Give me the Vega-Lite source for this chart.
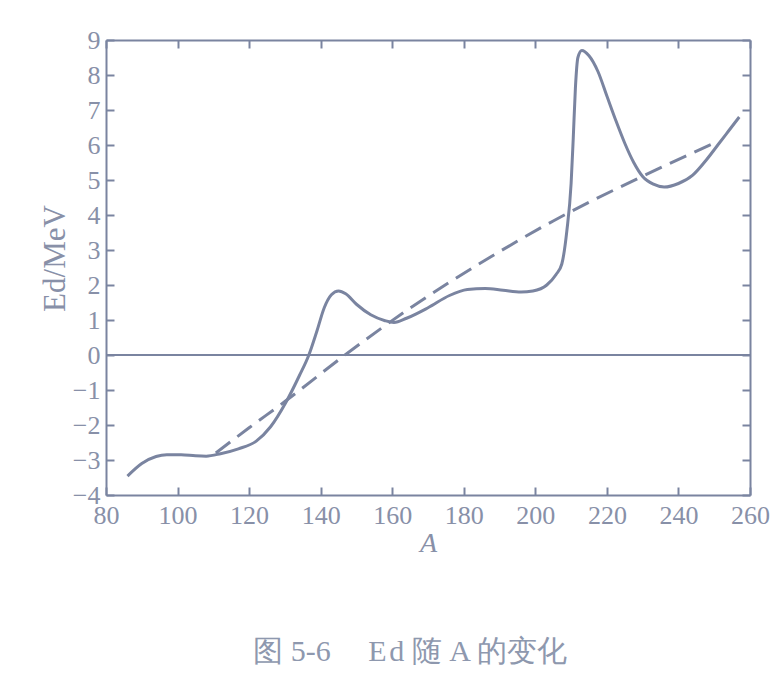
{
  "$schema": "https://vega.github.io/schema/vega-lite/v6.json",
  "autosize": "none",
  "width": 644,
  "height": 455,
  "padding": {"left": 106, "top": 40, "right": 22, "bottom": 202},
  "background": "white",
  "config": {"view": {"stroke": null}, "font": "Liberation Serif"},
  "title": {
    "text": "图 5-6\u2003 E\u200ad 随 A 的变化",
    "orient": "bottom",
    "anchor": "middle",
    "offset": 80,
    "dx": -18,
    "fontSize": 30,
    "font": "Liberation Serif",
    "fontWeight": "normal",
    "color": "#8e98ae"
  },
  "data": {
    "values": [
      {"A": 86, "E": -3.46, "series": "solid"},
      {"A": 90, "E": -3.1, "series": "solid"},
      {"A": 94, "E": -2.9, "series": "solid"},
      {"A": 97, "E": -2.85, "series": "solid"},
      {"A": 101, "E": -2.85, "series": "solid"},
      {"A": 105, "E": -2.88, "series": "solid"},
      {"A": 108, "E": -2.89, "series": "solid"},
      {"A": 112, "E": -2.82, "series": "solid"},
      {"A": 117, "E": -2.68, "series": "solid"},
      {"A": 122, "E": -2.46, "series": "solid"},
      {"A": 126, "E": -2.05, "series": "solid"},
      {"A": 130.3, "E": -1.35, "series": "solid"},
      {"A": 134, "E": -0.6, "series": "solid"},
      {"A": 136.7, "E": 0, "series": "solid"},
      {"A": 139, "E": 0.7, "series": "solid"},
      {"A": 141, "E": 1.35, "series": "solid"},
      {"A": 143, "E": 1.72, "series": "solid"},
      {"A": 145, "E": 1.83, "series": "solid"},
      {"A": 147, "E": 1.75, "series": "solid"},
      {"A": 150, "E": 1.45, "series": "solid"},
      {"A": 154, "E": 1.15, "series": "solid"},
      {"A": 158, "E": 0.98, "series": "solid"},
      {"A": 160.5, "E": 0.93, "series": "solid"},
      {"A": 164, "E": 1.05, "series": "solid"},
      {"A": 170, "E": 1.35, "series": "solid"},
      {"A": 176, "E": 1.7, "series": "solid"},
      {"A": 181, "E": 1.87, "series": "solid"},
      {"A": 186, "E": 1.9, "series": "solid"},
      {"A": 191, "E": 1.85, "series": "solid"},
      {"A": 196, "E": 1.8, "series": "solid"},
      {"A": 199.3, "E": 1.83, "series": "solid"},
      {"A": 203.2, "E": 2.0, "series": "solid"},
      {"A": 205.8, "E": 2.3, "series": "solid"},
      {"A": 207.4, "E": 2.6, "series": "solid"},
      {"A": 208.8, "E": 3.54, "series": "solid"},
      {"A": 210, "E": 4.9, "series": "solid"},
      {"A": 210.6, "E": 6.2, "series": "solid"},
      {"A": 211.2, "E": 7.63, "series": "solid"},
      {"A": 211.9, "E": 8.5, "series": "solid"},
      {"A": 213, "E": 8.7, "series": "solid"},
      {"A": 215, "E": 8.55, "series": "solid"},
      {"A": 217.5, "E": 8.1, "series": "solid"},
      {"A": 220, "E": 7.4, "series": "solid"},
      {"A": 222.5, "E": 6.7, "series": "solid"},
      {"A": 225, "E": 6.05, "series": "solid"},
      {"A": 227.5, "E": 5.5, "series": "solid"},
      {"A": 230, "E": 5.1, "series": "solid"},
      {"A": 233, "E": 4.88, "series": "solid"},
      {"A": 236, "E": 4.8, "series": "solid"},
      {"A": 240, "E": 4.9, "series": "solid"},
      {"A": 244, "E": 5.14, "series": "solid"},
      {"A": 248, "E": 5.6, "series": "solid"},
      {"A": 251, "E": 6.0, "series": "solid"},
      {"A": 254, "E": 6.4, "series": "solid"},
      {"A": 257, "E": 6.8, "series": "solid"},
      {"A": 110.7, "E": -2.8, "series": "dashed"},
      {"A": 120, "E": -2.08, "series": "dashed"},
      {"A": 130, "E": -1.33, "series": "dashed"},
      {"A": 146.8, "E": 0, "series": "dashed"},
      {"A": 165, "E": 1.34, "series": "dashed"},
      {"A": 187, "E": 2.77, "series": "dashed"},
      {"A": 205, "E": 3.83, "series": "dashed"},
      {"A": 229, "E": 5.06, "series": "dashed"},
      {"A": 251, "E": 6.1, "series": "dashed"},
      {"A": 80, "E": 0, "series": "zero"},
      {"A": 260, "E": 0, "series": "zero"}
    ]
  },
  "resolve": {"axis": {"x": "independent", "y": "independent"}},
  "layer": [
    {
      "transform": [{"filter": "datum.series === 'solid'"}],
      "mark": {"type": "line", "interpolate": "monotone", "color": "#7a84a0", "strokeWidth": 3},
      "encoding": {
        "x": {
          "field": "A", "type": "quantitative",
          "scale": {"domain": [80, 260], "nice": false, "zero": false},
          "axis": {
            "orient": "bottom",
            "values": [80, 100, 120, 140, 160, 180, 200, 220, 240, 260],
            "grid": false,
            "domainColor": "#7a84a0", "domainWidth": 2,
            "tickColor": "#7a84a0", "tickWidth": 2, "tickSize": -8,
            "labelFontSize": 26, "labelColor": "#8890a8", "labelPadding": 15,
            "labelFlush": false,
            "title": "A", "titleFontSize": 28, "titleFontStyle": "italic", "titleFontWeight": "normal",
            "titleColor": "#8890a8", "titleBaseline": "middle", "titleY": 48
          }
        },
        "y": {
          "field": "E", "type": "quantitative",
          "scale": {"domain": [-4, 9], "nice": false, "zero": false},
          "axis": {
            "orient": "left",
            "values": [-4, -3, -2, -1, 0, 1, 2, 3, 4, 5, 6, 7, 8, 9],
            "grid": false,
            "domainColor": "#7a84a0", "domainWidth": 2,
            "tickColor": "#7a84a0", "tickWidth": 2, "tickSize": -8,
            "labelFontSize": 26, "labelColor": "#8890a8", "labelPadding": 14,
            "labelFlush": false,
            "title": "Ed/MeV", "titleFontSize": 31, "titleFontWeight": "normal",
            "titleColor": "#8890a8", "titleX": -51, "titleY": 218, "titleBaseline": "middle", "titleAngle": -90
          }
        }
      }
    },
    {
      "transform": [{"filter": "datum.series === 'dashed'"}],
      "mark": {"type": "line", "interpolate": "monotone", "color": "#7a84a0", "strokeWidth": 3, "strokeDash": [18, 9]},
      "encoding": {
        "x": {
          "field": "A", "type": "quantitative",
          "scale": {"domain": [80, 260], "nice": false, "zero": false},
          "axis": {
            "orient": "top",
            "values": [80, 100, 120, 140, 160, 180, 200, 220, 240, 260],
            "grid": false, "labels": false, "title": null,
            "domainColor": "#7a84a0", "domainWidth": 2,
            "tickColor": "#7a84a0", "tickWidth": 2, "tickSize": -8
          }
        },
        "y": {
          "field": "E", "type": "quantitative",
          "scale": {"domain": [-4, 9], "nice": false, "zero": false},
          "axis": {
            "orient": "right",
            "values": [-4, -3, -2, -1, 0, 1, 2, 3, 4, 5, 6, 7, 8, 9],
            "grid": false, "labels": false, "title": null,
            "domainColor": "#7a84a0", "domainWidth": 2,
            "tickColor": "#7a84a0", "tickWidth": 2, "tickSize": -8
          }
        }
      }
    },
    {
      "transform": [{"filter": "datum.series === 'zero'"}],
      "mark": {"type": "line", "color": "#7a84a0", "strokeWidth": 2},
      "encoding": {
        "x": {"field": "A", "type": "quantitative", "axis": null},
        "y": {"field": "E", "type": "quantitative", "axis": null}
      }
    }
  ]
}
